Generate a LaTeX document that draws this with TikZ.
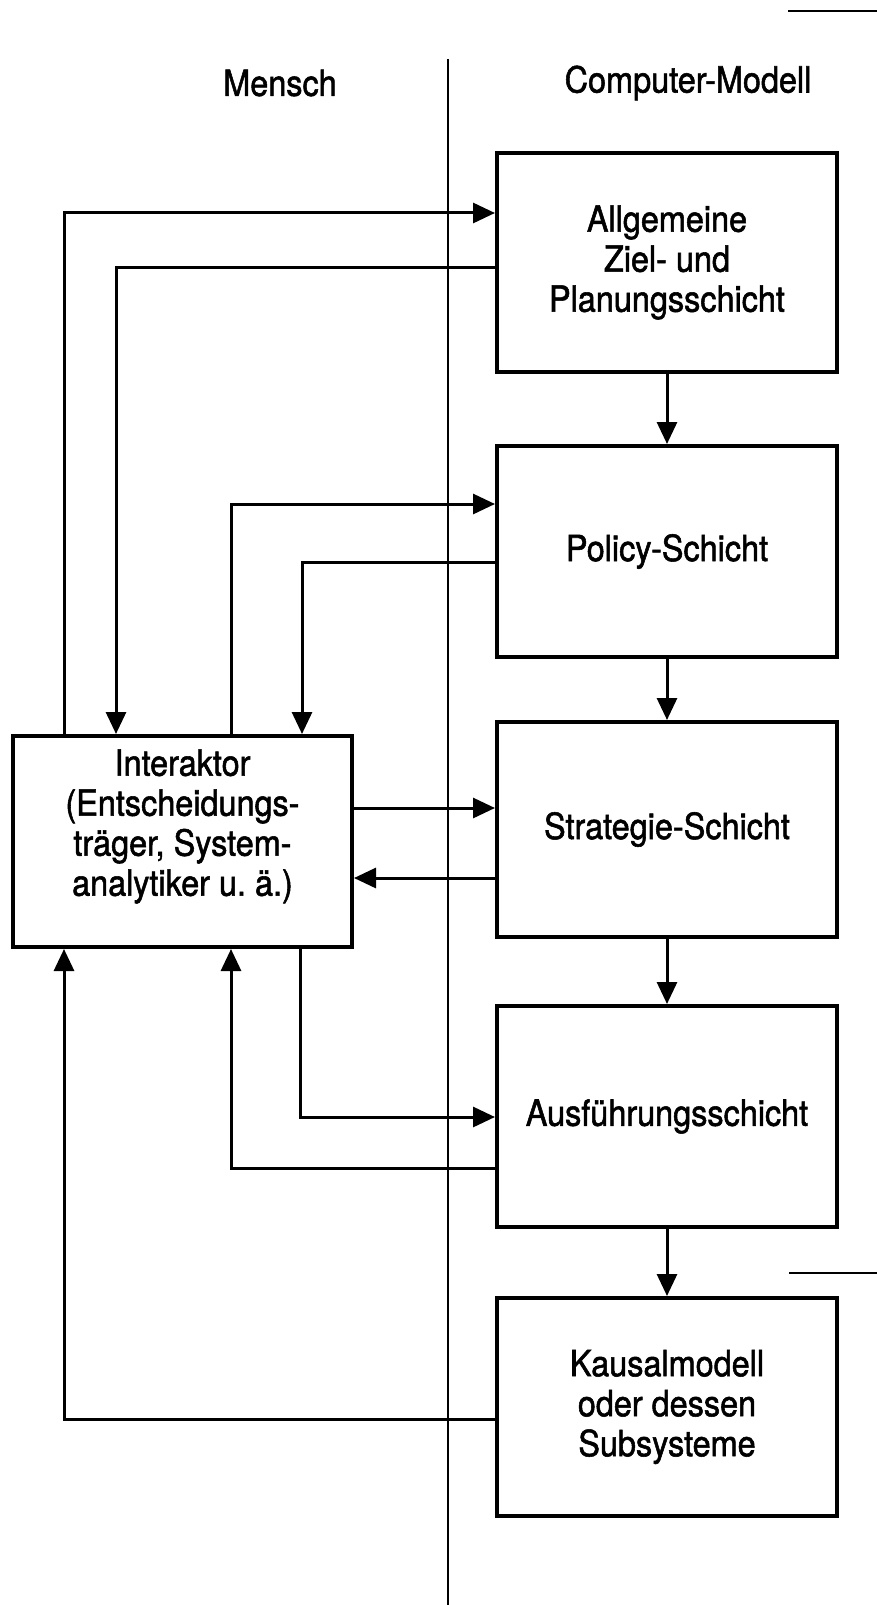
\documentclass[tikz,border=0pt]{standalone}
\usepackage{fontspec}
\setmainfont{TeX Gyre Heros}[FakeStretch=0.9,FakeBold=1.5]
\usetikzlibrary{arrows.meta,positioning}

\begin{document}
\begin{tikzpicture}[x=0.5pt,y=-0.5pt]
\tikzset{every node/.style={font=\fontsize{18}{20}\selectfont,align=center}}
\tikzset{schicht/.style={draw,line width=2pt,minimum width=170pt,inner sep=0pt}}
\tikzset{pfeil/.style={line width=1.5pt,-{Triangle[length=11pt,width=10pt]}}}
\useasboundingbox (0,0) rectangle (877,1605);

% Spalten
\draw[line width=0.8pt] (448,59) -- (448,1605);
\node (mensch) at (280,83) {Mensch};
\node (computer) at (688,83) {Computer-Modell};

% Schichten des Modells
\node[schicht,minimum height=109.5pt] (ziel) at (667,262.5) {Allgemeine\\Ziel- und\\Planungsschicht};
\node[schicht,minimum height=105.5pt] (policy) at (667,551.5) {Policy-Schicht};
\node[schicht,minimum height=107.5pt] (strat) at (667,829.5) {Strategie-Schicht};
\node[schicht,minimum height=110.5pt] (ausf) at (667,1116.5) {Ausführungsschicht};
\node[schicht,minimum height=109pt] (kausal) at (667,1407) {Kausalmodell\\oder dessen\\Subsysteme};

% Interaktor
\node[schicht,minimum width=169.5pt,minimum height=105.5pt] (inter) at (182.5,841.5) {};
\node (intertext) at ([yshift=7.5pt]inter.center) {Interaktor\\(Entscheidungs-\\träger, System-\\analytiker u.\ ä.)};

% Knickpunkte
\coordinate (zielIn) at (64,213);
\coordinate (zielOut) at (116,267);
\coordinate (policyIn) at (231,504);
\coordinate (policyOut) at (302,562);
\coordinate (stratIn) at (0,808);
\coordinate (stratOut) at (0,878);
\coordinate (ausfIn) at (300,1117);
\coordinate (ausfOut) at (231,1168);
\coordinate (kausalOut) at (64,1419);

\foreach \a/\b in {ziel/policy,policy/strat,strat/ausf,ausf/kausal}
  \draw[pfeil] (\a) -- (\b);

\draw[pfeil] (inter.north -| zielIn) |- (ziel.west |- zielIn);
\draw[pfeil] (ziel.west |- zielOut) -| (inter.north -| zielOut);
\draw[pfeil] (inter.north -| policyIn) |- (policy.west |- policyIn);
\draw[pfeil] (policy.west |- policyOut) -| (inter.north -| policyOut);
\draw[pfeil] (inter.east |- stratIn) -- (strat.west |- stratIn);
\draw[pfeil] (strat.west |- stratOut) -- (inter.east |- stratOut);
\draw[pfeil] (inter.south -| ausfIn) |- (ausf.west |- ausfIn);
\draw[pfeil] (ausf.west |- ausfOut) -| (inter.south -| ausfOut);
\draw[pfeil] (kausal.west |- kausalOut) -| (inter.south -| kausalOut);

% Randstriche
\draw[line width=1pt] (788,11) -- (877,11);
\draw[line width=1pt] (789,1273) -- (877,1273);
\end{tikzpicture}
\end{document}
